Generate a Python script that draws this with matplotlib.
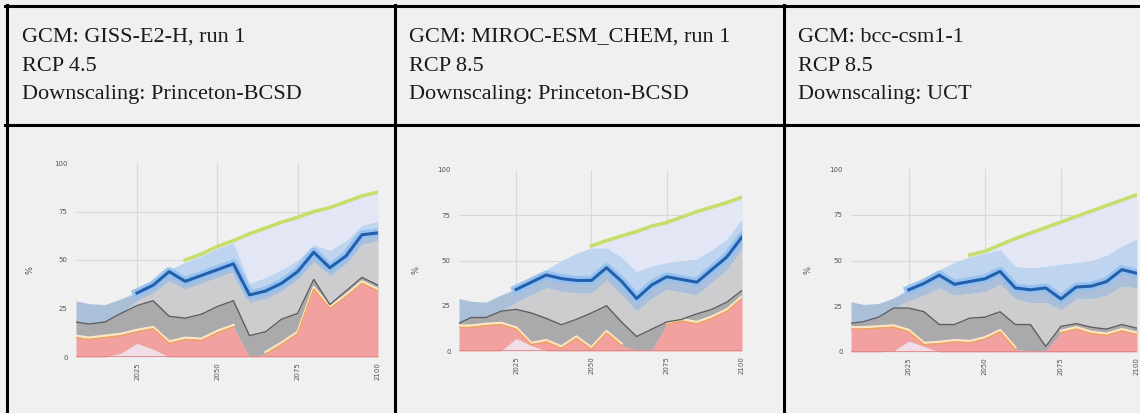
import numpy as np
import matplotlib
matplotlib.use("Agg")
import matplotlib.pyplot as plt
from matplotlib.transforms import offset_copy

nan = np.nan

# header text of the three table cells
gcms = ["GCM: GISS-E2-H, run 1", "GCM: MIROC-ESM_CHEM, run 1", "GCM: bcc-csm1-1"]
rcps = ["RCP 4.5", "RCP 8.5", "RCP 8.5"]
downscalings = ["Downscaling: Princeton-BCSD", "Downscaling: Princeton-BCSD", "Downscaling: UCT"]

years = [2006, 2010, 2015, 2020, 2025, 2030, 2035, 2040, 2045, 2050,
         2055, 2060, 2065, 2070, 2075, 2080, 2085, 2090, 2095, 2100]
xticks = [2025, 2050, 2075, 2100]
yticks = [0, 25, 50, 75, 100]

# layer tops (cumulative %)
pale1 = [0, 0, 0, 2, 7, 4, 0, 0, 0, 0, 0, 0, 0, 0, 0, 0, 0, 0, 0, 0]
red1 = [10, 9, 10, 11, 13, 14.5, 7, 9, 8.5, 12.5, 15.5, 0, 1.5, 6.5, 12, 35, 25, 31, 38, 34]
gray1 = [18, 17, 18, 22.5, 26.5, 29, 21, 20, 22, 26, 29, 11, 13, 19.5, 22.5, 40, 27, 34, 41, 37]
light1 = [18, 17, 18, 22.5, 29, 33, 39, 35, 38, 41, 44, 28, 30, 34, 40, 49, 42, 48, 58, 60]
blue1 = [29, 27.5, 27, 30, 33, 37, 44, 39, 42, 45, 48, 32, 34, 38, 44, 54, 46, 52, 63, 64]
sky1 = [29, 27.5, 27, 30, 34, 38, 45, 49, 52, 56, 59, 38, 41, 45, 50, 58, 55, 60, 68, 70]
green1 = [nan, nan, nan, nan, nan, nan, nan, 50, 53, 57, 60, 63.5, 66.5, 69.5, 72, 75, 77, 80, 83, 85]

pale2 = [0, 0, 0, 0, 7, 3, 0, 0, 0, 0, 0, 0, 0, 0, 0, 0, 0, 0, 0, 0]
red2 = [13, 13, 14, 14.5, 12, 3.5, 5, 1.5, 7, 1, 10, 3, 0.3, 0.5, 14.5, 16.5, 15, 18, 22, 29]
gray2 = [15.3, 18.5, 18.5, 22, 23, 21, 18, 14.5, 17.5, 21, 25, 16, 8, 12, 16, 17.5, 20.5, 23, 27, 33.5]
light2 = [15.3, 18.5, 18.5, 22, 27, 31, 35, 33, 32, 32, 39, 31, 22, 29, 34, 32.5, 31, 38, 45, 56]
blue2 = [29, 27.5, 27, 31, 34, 38, 42, 40, 39, 39, 46, 38.5, 29, 36.5, 41, 39.5, 38, 45, 52, 63]
sky2 = [29, 27.5, 27, 31, 35, 40, 45, 50, 54, 57, 57, 52, 44, 47, 49, 50, 51, 56, 62, 73]
green2 = [nan, nan, nan, nan, nan, nan, nan, nan, nan, 58, 61, 63.5, 66, 69, 71, 74, 77, 79.5, 82, 85]

pale3 = [0, 0, 0, 0.5, 6, 3, 0, 0, 0, 0, 0, 0, 0, 0, 0, 0, 0, 0, 0, 0]
red3 = [12.5, 12.5, 13, 13.5, 11, 4, 4.5, 5.5, 5, 7, 11, 1.5, 0.5, 0.5, 10.5, 12.5, 10, 9, 11.5, 9.5]
gray3 = [15.7, 16.5, 19, 24, 24, 22, 15, 15, 18.5, 19, 22, 15, 15, 3, 14, 15.5, 13.5, 12.5, 15, 13]
light3 = [15.7, 16.5, 19, 24, 28, 31, 35, 31, 32, 33, 37, 29, 27, 27, 23, 29, 29, 31, 36, 35]
blue3 = [27.5, 26, 26.5, 29.5, 34, 37.5, 42, 37, 38.5, 40, 44, 35, 34, 35, 29, 35.5, 36, 38.5, 45, 43]
sky3 = [27.5, 26, 26.5, 29.5, 35, 40, 45, 49, 52, 54, 56, 47, 46, 47, 48, 49, 50, 53, 58, 62]
green3 = [nan, nan, nan, nan, nan, nan, nan, nan, 53, 55, 58.5, 62, 65, 68, 71, 74, 77, 80, 83, 86]

line_from = 2025  # first year of the thick blue line

W, H = 1140, 413
fig = plt.figure(figsize=(W / 100, H / 100), dpi=100, facecolor="#f0f0f0")

# table frame and header text, in pixel coordinates
bg = fig.add_axes([0, 0, 1, 1])
bg.set_xlim(0, W)
bg.set_ylim(H, 0)
bg.axis("off")
lw = 2.2
bg.plot([5, W], [5.5, 5.5], color="black", lw=lw)
bg.plot([5, W], [125, 125], color="black", lw=lw)
for xv in [6.5, 394.5, 783.5]:
    bg.plot([xv, xv], [5, H], color="black", lw=lw)

text_x = [22, 409, 798]
for i in range(3):
    for line, yb in zip([gcms[i], rcps[i], downscalings[i]], [42, 71, 99.5]):
        bg.text(text_x[i], yb, line, fontsize=16, family="Liberation Serif",
                color="#1a1a1a", va="baseline", ha="left")

# chart boxes: (x at 2006, x at 2100, y at 0, y at 100) in pixels
boxes = [(76, 378, 357, 163), (459, 742, 351, 170), (851, 1137, 352, 169)]
panels = [
    (pale1, red1, gray1, light1, blue1, sky1, green1),
    (pale2, red2, gray2, light2, blue2, sky2, green2),
    (pale3, red3, gray3, light3, blue3, sky3, green3),
]

for (x0, x1, y0, y1), (pale, red, gray, light, blue, sky, green) in zip(boxes, panels):
    ax = fig.add_axes([x0 / W, (H - y0) / H, (x1 - x0) / W, (y0 - y1) / H])
    ax.set_facecolor("none")
    x = np.array(years)
    pale, red, gray = np.array(pale), np.array(red), np.array(gray)
    light, blue, sky, green = np.array(light), np.array(blue), np.array(sky), np.array(green)

    for t in yticks[1:-1]:
        ax.axhline(t, color="#d9d9d9", lw=0.8, zorder=0)
    for t in xticks[:-1]:
        ax.axvline(t, color="#d9d9d9", lw=0.8, zorder=0)

    ax.fill_between(x, 0, pale, color="#f1dde6", lw=0, zorder=1)
    ax.fill_between(x, pale, red, color="#f2a0a0", lw=0, zorder=1)
    ax.fill_between(x, red, gray, color="#aaaaad", lw=0, zorder=1)
    ax.fill_between(x, gray, light, color="#cdcdd0", lw=0, zorder=1)
    ax.fill_between(x, light, blue, color="#abbfd9", lw=0, zorder=1)
    ax.fill_between(x, blue, sky, color="#bfd5ef", lw=0, zorder=1)
    ax.fill_between(x, sky, green, color="#e3e6f4", lw=0, zorder=1)

    # orange and cream edge on top of the red area
    red_edge = np.where(red > 0.8, red, nan)
    up = offset_copy(ax.transData, fig=fig, y=1.8, units="dots")
    ax.plot(x, red_edge, color="#fbe6c4", lw=1.8, transform=up, zorder=2)
    ax.plot(x, red_edge, color="#f2a062", lw=1.1, zorder=2)
    ax.plot(x, gray, color="#5e5e60", lw=1.0, zorder=2)

    blue_line = np.where(x >= line_from, blue, nan)
    ax.plot(x, blue_line, color="#93bff0", lw=6.5, alpha=0.9, zorder=3,
            solid_joinstyle="round")
    ax.plot(x, blue_line, color="#2260ad", lw=2.2, zorder=3, solid_joinstyle="round")
    ax.plot(x, green, color="#c6df6c", lw=2.6, zorder=3)
    ax.axhline(0, color="#e08484", lw=1.2, zorder=4)

    ax.set_xlim(2006, 2100)
    ax.set_ylim(0, 100)
    ax.set_xticks(xticks)
    ax.set_xticklabels([str(t) for t in xticks], rotation=90, fontsize=5, color="#555555")
    ax.set_yticks(yticks)
    ax.set_yticklabels([str(t) for t in yticks], fontsize=5, color="#555555")
    ax.tick_params(length=0)
    ax.tick_params(axis="y", pad=6)
    ax.tick_params(axis="x", pad=4)
    for s in ax.spines.values():
        s.set_visible(False)
    ax.set_ylabel("%", fontsize=6, color="#555555")
    ax.yaxis.set_label_coords(-0.136, 0.45)

fig.savefig("out.png", dpi=100, facecolor=fig.get_facecolor())
